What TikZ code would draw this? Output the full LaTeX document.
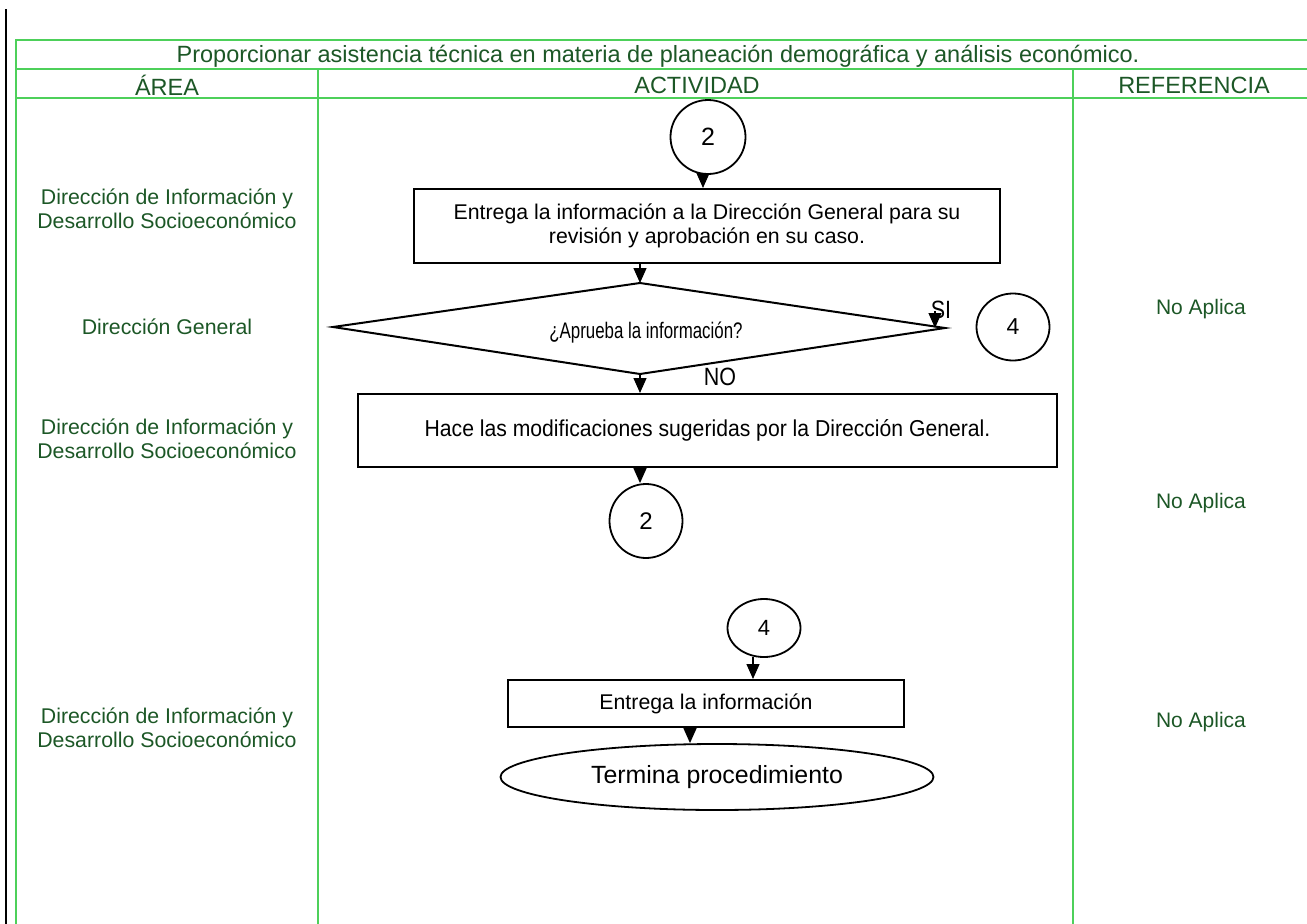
\documentclass[tikz,border=0pt]{standalone}
\usepackage{fontspec}
\setmainfont{Liberation Sans}
\newfontfamily\narrowf[FakeStretch=0.75]{Liberation Sans}
\newfontfamily\narrowb[FakeStretch=0.92]{Liberation Sans}
\newfontfamily\narrowc[FakeStretch=0.86]{Liberation Sans}
\usetikzlibrary{arrows.meta,shapes.geometric}
\definecolor{gline}{RGB}{77,208,90}
\definecolor{gtxt}{RGB}{28,87,38}
\tikzset{
  gridline/.style={draw=gline,line width=2pt},
  gtext/.style={text=gtxt,inner sep=0pt,align=center},
  headtext/.style={gtext,font=\fontsize{23.5}{27}\selectfont},
  areatext/.style={gtext,font=\fontsize{21.3}{23.5}\selectfont},
  reftext/.style={gtext,font=\fontsize{21}{24}\selectfont},
  procbox/.style={draw=black,line width=2pt,rectangle,inner sep=0pt,align=center},
  connector/.style={draw=black,line width=1.8pt,ellipse,inner sep=0pt},
  decision/.style={draw=black,line width=2pt,line join=miter},
  arr/.style={draw=black,line width=1.3pt,-{Triangle[length=15pt,width=13pt]}},
}
\begin{document}
\begin{tikzpicture}[x=1pt,y=-1pt]
\useasboundingbox (0,0) rectangle (1307,924);
% outer black line
\draw[black,line width=1.5pt] (6,9) -- (6,924);
% table grid
\draw[gridline] (16,924) -- (16,40) -- (1307,40);
\draw[gridline] (16,69) -- (1307,69);
\draw[gridline] (16,98) -- (1307,98);
\draw[gridline] (318,69) -- (318,924);
\draw[gridline] (1073,69) -- (1073,924);
% headers
\node[headtext] (title) at (658,56) {Proporcionar asistencia técnica en materia de planeación demográfica y análisis económico.};
\node[headtext] (harea) at (167,85) {ÁREA};
\node[headtext] (hact) at (697,85) {ACTIVIDAD};
\node[headtext] (href) at (1194,85) {REFERENCIA};
% area column
\node[areatext] (a1) at (167,209) {Dirección de Información y\\Desarrollo Socioeconómico};
\node[areatext] (a2) at (167,327) {Dirección General};
\node[areatext] (a3) at (167,439) {Dirección de Información y\\Desarrollo Socioeconómico};
\node[areatext] (a4) at (167,728) {Dirección de Información y\\Desarrollo Socioeconómico};
% reference column
\node[reftext] (r1) at (1201,309) {No Aplica};
\node[reftext] (r2) at (1201,503) {No Aplica};
\node[reftext] (r3) at (1201,722) {No Aplica};
% flow
\node[connector,minimum width=75pt,minimum height=74pt,font=\fontsize{25}{29}\selectfont] (c2a) at (708,137) {2};
\node[procbox,minimum width=586pt,minimum height=74pt,font=\fontsize{21.3}{24}\selectfont] (b1) at (707,226) {Entrega la información a la Dirección General para su\\revisión y aprobación en su caso.};
% decision diamond
\coordinate (dL) at (333,327);
\coordinate (dT) at (640,283);
\coordinate (dR) at (945,328);
\coordinate (dB) at (640,374);
\draw[decision] (dL) -- (dT) -- (dR) -- (dB) -- cycle;
\node[inner sep=0pt,font=\narrowf\fontsize{22.5}{26}\selectfont] (dtext) at (646,333) {¿Aprueba la información?};
\node[inner sep=0pt,font=\narrowc\fontsize{25}{29}\selectfont] (si) at (941,310) {SI};
\node[connector,minimum width=73pt,minimum height=67pt,font=\fontsize{23}{27}\selectfont] (c4a) at (1013,327) {4};
\node[inner sep=0pt,font=\narrowc\fontsize{25}{29}\selectfont] (no) at (720,377) {NO};
\node[procbox,minimum width=699pt,minimum height=73pt,font=\narrowb\fontsize{23}{27}\selectfont] (b2) at (707.5,430.5) {Hace las modificaciones sugeridas por la Dirección General.};
\node[connector,minimum width=73pt,minimum height=74pt,font=\fontsize{24}{28}\selectfont] (c2b) at (646,521) {2};
\node[connector,minimum width=73pt,minimum height=58pt,font=\fontsize{22}{26}\selectfont] (c4b) at (764,628) {4};
\node[procbox,minimum width=396pt,minimum height=47pt,font=\fontsize{21.3}{25}\selectfont] (b3) at (706,703.5) {Entrega la información};
\node[connector,minimum width=433pt,minimum height=66pt,font=\fontsize{24.9}{29}\selectfont] (term) at (717,777) {Termina procedimiento};
% connectors
\coordinate (c2aout) at (703,174);
\draw[arr] (c2aout) -- (c2aout |- b1.north);
\coordinate (b1out) at (640,263);
\draw[arr] (b1out) -- (dT);
\coordinate (siA) at (935,311);
\coordinate (siB) at (935,328);
\draw[arr] (siA) -- (siB);
\draw[arr] (dB) -- (dB |- b2.north);
\coordinate (b2out) at (640,467);
\draw[arr] (b2out) -- (b2out |- c2b.north);
\coordinate (c4bout) at (753,657);
\draw[arr] (c4bout) -- (c4bout |- b3.north);
\coordinate (b3out) at (690,727);
\draw[arr] (b3out) -- (b3out |- term.north);
\end{tikzpicture}
\end{document}
